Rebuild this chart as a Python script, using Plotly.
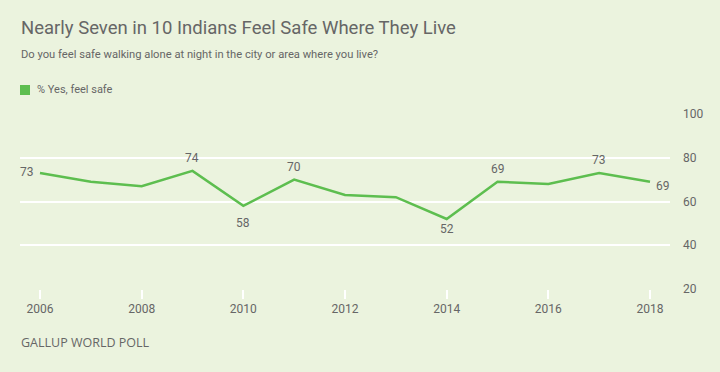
import plotly.graph_objects as go

years = [2006, 2007, 2008, 2009, 2010, 2011, 2012, 2013, 2014, 2015, 2016, 2017, 2018]
yes_safe = [73, 69, 67, 74, 58, 70, 63, 62, 52, 69, 68, 73, 69]
label_years = [2006, 2009, 2010, 2011, 2014, 2015, 2017, 2018]
x_ticks = [2006, 2008, 2010, 2012, 2014, 2016, 2018]
y_ticks = [20, 40, 60, 80, 100]

# label placement style (pixel shifts)
label_xshift = [-4, 0, 0, 0, 0, 0, 0, 4]
label_yshift = [1, 13, -17, 13, -10, 13, 13, -4]
label_xanchor = ["right", "center", "center", "center", "center", "center", "center", "left"]

BG = "#EBF3DE"
GREEN = "#5DBE4F"
GREY = "#666666"
FONT = "Roboto, Arial, sans-serif"

W, H = 720, 372
L, R, T, B = 20, 50, 114, 83
pw, ph = W - L - R, H - T - B

fig = go.Figure()
fig.add_trace(go.Scatter(
    x=years, y=yes_safe, mode="lines",
    line=dict(color=GREEN, width=2.5),
    name="% Yes, feel safe", showlegend=False, hoverinfo="x+y",
))

fig.update_layout(
    width=W, height=H,
    paper_bgcolor=BG, plot_bgcolor=BG,
    margin=dict(l=L, r=R, t=T, b=B),
    font=dict(family=FONT, color=GREY),
    xaxis=dict(
        range=[2005.607, 2018.393], tickvals=x_ticks,
        showgrid=False, zeroline=False,
        showline=False, ticks="outside", ticklen=9, tickwidth=2,
        tickcolor="white", tickfont=dict(size=12, color=GREY),
    ),
    yaxis=dict(
        range=[20, 100], tickvals=y_ticks, side="right",
        showgrid=True, gridcolor="white", gridwidth=2,
        zeroline=False, showline=False,
        tickfont=dict(size=12, color=GREY), ticklabelstandoff=12,
    ),
)


def to_paper(xp, yp):
    return (xp - L) / pw, (H - B - yp) / ph


anns = []
for i, yr in enumerate(label_years):
    v = yes_safe[years.index(yr)]
    anns.append(dict(text=str(v), x=yr, y=v, xref="x", yref="y",
                     xanchor=label_xanchor[i], yanchor="middle",
                     xshift=label_xshift[i], yshift=label_yshift[i],
                     showarrow=False,
                     font=dict(family=FONT, size=12, color=GREY)))

for text, xp, yp, size, fam in [
    ("Nearly Seven in 10 Indians Feel Safe Where They Live", 19, 28, 18.5, FONT),
    ("Do you feel safe walking alone at night in the city or area where you live?", 19, 55, 11.2, FONT),
    ("% Yes, feel safe", 35, 90, 11, FONT),
    ("GALLUP WORLD POLL", 19, 342, 12.5, "Open Sans, Roboto, sans-serif"),
]:
    xx, yy = to_paper(xp, yp)
    anns.append(dict(text=text, x=xx, y=yy, xref="paper", yref="paper",
                     xanchor="left", yanchor="middle", showarrow=False,
                     font=dict(family=fam, size=size, color=GREY)))
fig.update_layout(annotations=anns)

x0, y0 = to_paper(20, 85)
x1, y1 = to_paper(30, 95)
fig.add_shape(type="rect", xref="paper", yref="paper", x0=x0, y0=y1, x1=x1, y1=y0,
              fillcolor=GREEN, line=dict(width=0))

fig.write_html(
    "out.html",
    config={"displayModeBar": False},
    post_script="document.body.style.margin='0';document.body.style.background='%s';" % BG,
)
